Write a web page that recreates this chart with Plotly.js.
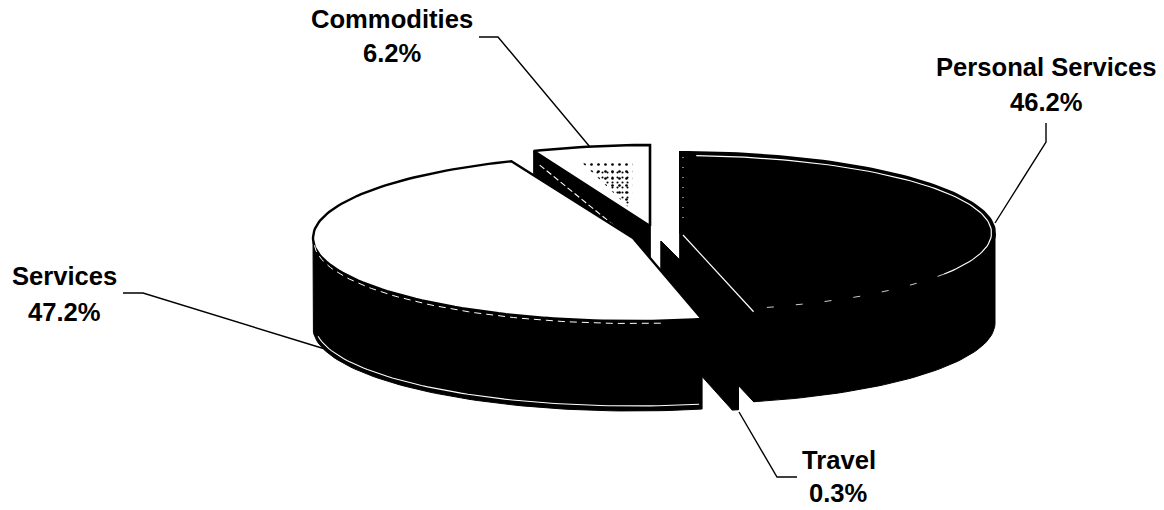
<!DOCTYPE html>
<html><head><meta charset="utf-8">
<script src="https://cdn.plot.ly/plotly-3.0.1.min.js"></script>
<style>html,body{margin:0;padding:0;background:#fff}#c{width:1164px;height:510px}</style>
</head><body><div id="c"></div>
<script>
// Data
const categories = ["Personal Services", "Travel", "Services", "Commodities"];
const shares = [46.2, 0.3, 47.2, 6.2];

// Drawing geometry of the tilted pie (pixel-scaled axes)
const centres = [[680,233],[661,241],[633,238],[650,226]];
const radiiX = [315,331,320,306];
const radiiY = [81,81,83,81];
const DEPTH = 90;
const labelPos = [[1046,67,1046,102],[839,460,838,493],[64,276,64,312],[392,19,392,53]];
const leaders = [
  [[1046,123],[1046,142],[995,223]],
  [[797,477],[777,477],[739,412]],
  [[123,293],[143,293],[325,349]],
  [[479,37],[498,37],[590,147]]
];

const total = shares.reduce((a,b)=>a+b,0);
const starts = []; let run = 0;
shares.forEach(v=>{starts.push(run/total*360); run+=v;});
const ends = shares.map((v,i)=>starts[i]+v/total*360);
const rad = d=>d*Math.PI/180;
const pt = (i,d,dy=0,inset=0)=>[centres[i][0]+(radiiX[i]-inset)*Math.sin(rad(d)),
                                 centres[i][1]-(radiiY[i]-inset)*Math.cos(rad(d))+dy];
function arc(i,a,b,dy=0,inset=0){
  const out=[]; const n=Math.max(2,Math.ceil(Math.abs(b-a)/1.5));
  for(let k=0;k<=n;k++) out.push(pt(i,a+(b-a)*k/n,dy,inset));
  return out;
}
const traces=[];
function poly(p,fill,line,width,extra){
  traces.push(Object.assign({type:"scatter",mode:(width>0?"lines":"none"),
    x:p.map(q=>q[0]),y:p.map(q=>q[1]),fill:fill?"toself":"none",fillcolor:fill||undefined,
    line:{color:line||"#000",width:width||0},hoverinfo:"skip",showlegend:false},extra||{}));
}
function walls(i){
  const c=centres[i];
  [starts[i],ends[i]].forEach(d=>{
    const e=pt(i,d);
    poly([c,e,[e[0],e[1]+DEPTH],[c[0],c[1]+DEPTH],c],"#000","#000",1);
  });
  const a=Math.max(90,starts[i]), b=Math.min(270,ends[i]);
  if(b>a){
    const upper=arc(i,a,b), lower=arc(i,b,a,DEPTH);
    poly(upper.concat(lower,[upper[0]]),"#000","#000",1);
  }
}
function face(i,fill,w){
  const c=centres[i];
  poly([c].concat(arc(i,starts[i],ends[i]),[c]),fill,"#000",w);
}
// back to front: Commodities, Travel, Personal Services, Services
walls(3); face(3,"#fff",2.6);
// speckled patches on the Commodities face
function speckle(sc,sh,size,sol){
  const c=centres[3];
  const o=arc(3,ends[3]-15,ends[3]-1).concat([[c[0]-6,c[1]-8]]).map(p=>[c[0]+(p[0]-c[0])*sc+sh[0],c[1]+(p[1]-c[1])*sc+sh[1]]);
  poly(o.concat([o[0]]),"rgba(255,255,255,0)",null,0,{fillpattern:{shape:".",fgcolor:"#000",bgcolor:"rgba(0,0,0,0)",size:size,solidity:sol}});
}
speckle(0.68,[-14,-10],7,0.12);
speckle(0.5,[-18,-16],5,0.14);
// white hairline on the Commodities cut face
{
  const c=centres[3], e=pt(3,starts[3]);
  poly([[e[0]+6,e[1]+14],[c[0]-6,c[1]+24]],null,"#fff",1.1,{line:{color:"#fff",width:1.1,dash:"6px 3px"}});
}
walls(1); face(1,"#000",1);
walls(0); face(0,"#000",2);
// highlights on Personal Services
poly(arc(0,3,122,0,3.5),null,"#fff",1.2);
poly(arc(0,122,ends[0]-1,0,3.5),null,"#fff",0.8,{line:{color:"#fff",width:0.8,dash:"7px 22px"}});
poly([[centres[0][0]+3,centres[0][1]+2],pt(0,ends[0])],null,"#fff",1.2);
poly([[centres[0][0]+3,157],[centres[0][0]+3,226]],null,"#fff",1,{line:{color:"#fff",width:1,dash:"1px 9px"}});
walls(2); face(2,"#fff",2.4);
// highlights on the Services wall
poly(arc(2,175,268,3.5,1),null,"#fff",1,{line:{color:"#fff",width:1,dash:"7px 5px"}});
poly(arc(2,168,262,DEPTH-3,2),null,"#fff",1.1);
// leader lines
leaders.forEach(l=>poly(l,null,"#000",1.4));

const textAnn=(x,y,t)=>({x,y,xref:"x",yref:"y",text:t,showarrow:false,xanchor:"center",yanchor:"middle",
  font:{family:"Liberation Sans, Arial, sans-serif",size:25.6,color:"#000"}});
const annotations=[];
categories.forEach((c,i)=>{
  const p=labelPos[i];
  annotations.push(textAnn(p[0],p[1],"<b>"+c+"</b>"));
  annotations.push(textAnn(p[2],p[3],"<b>"+shares[i].toFixed(1)+"%</b>"));
});
Plotly.newPlot("c",traces,{
  width:1164,height:510,margin:{l:0,r:0,t:0,b:0},showlegend:false,
  paper_bgcolor:"#fff",plot_bgcolor:"#fff",
  xaxis:{range:[0,1164],visible:false,fixedrange:true},
  yaxis:{range:[510,0],visible:false,fixedrange:true},
  annotations
},{displayModeBar:false,staticPlot:true});
</script></body></html>
